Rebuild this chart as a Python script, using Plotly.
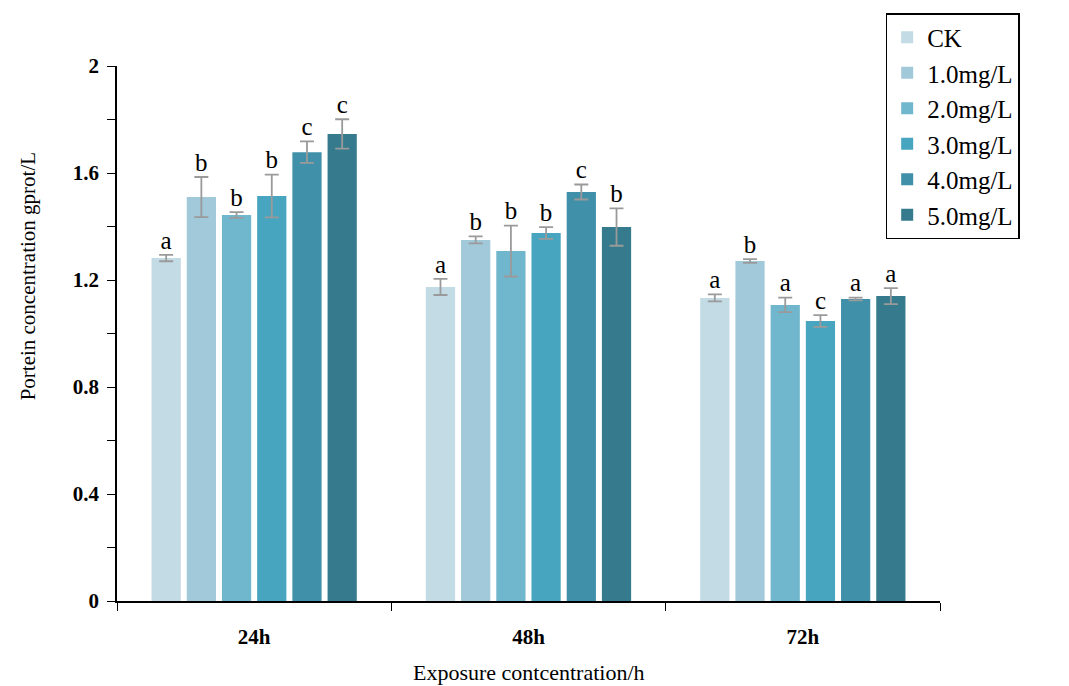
import plotly.graph_objects as go

groups = ["24h", "48h", "72h"]
series = ["CK", "1.0mg/L", "2.0mg/L", "3.0mg/L", "4.0mg/L", "5.0mg/L"]
colors = ["#c3dbe4", "#a1c9da", "#70b6cc", "#47a5bf", "#3f90a8", "#357b8d"]

values = {
    "CK":      [1.282, 1.174, 1.133],
    "1.0mg/L": [1.510, 1.350, 1.271],
    "2.0mg/L": [1.443, 1.308, 1.107],
    "3.0mg/L": [1.514, 1.376, 1.047],
    "4.0mg/L": [1.678, 1.529, 1.129],
    "5.0mg/L": [1.746, 1.398, 1.140],
}
errors = {
    "CK":      [0.012, 0.030, 0.013],
    "1.0mg/L": [0.075, 0.013, 0.007],
    "2.0mg/L": [0.011, 0.095, 0.027],
    "3.0mg/L": [0.080, 0.022, 0.022],
    "4.0mg/L": [0.040, 0.028, 0.005],
    "5.0mg/L": [0.055, 0.070, 0.030],
}
letters = {
    "CK":      ["a", "a", "a"],
    "1.0mg/L": ["b", "b", "b"],
    "2.0mg/L": ["b", "b", "a"],
    "3.0mg/L": ["b", "b", "c"],
    "4.0mg/L": ["c", "c", "a"],
    "5.0mg/L": ["c", "b", "a"],
}
ytick_vals = [0, 0.2, 0.4, 0.6, 0.8, 1.0, 1.2, 1.4, 1.6, 1.8, 2.0]
ytick_text = ["0", "", "0.4", "", "0.8", "", "1.2", "", "1.6", "", "2"]
x_title = "Exposure contcentration/h"
y_title = "Portein concentration gprot/L"

SERIF = "Liberation Serif"
BARGAP = 0.23
W, H = 1069, 686

fig = go.Figure()
for s, c in zip(series, colors):
    fig.add_trace(go.Bar(
        x=groups, y=values[s], name=s, marker_color=c, marker_line_width=0,
        offsetgroup=s, legendgroup=s,
        error_y=dict(type="data", array=errors[s], color="#9a9a9a",
                     thickness=1.8, width=7),
    ))
for s in series:
    fig.add_trace(go.Scatter(
        x=groups, y=[v + e for v, e in zip(values[s], errors[s])],
        mode="text", text=letters[s], textposition="top center",
        textfont=dict(family=SERIF, size=25, color="black"),
        offsetgroup=s, showlegend=False, hoverinfo="skip", cliponaxis=False,
    ))

fig.add_annotation(
    text=y_title, textangle=-90, xref="paper", yref="paper",
    x=-0.108, y=0.607, xanchor="center", yanchor="middle", showarrow=False,
    font=dict(family=SERIF, size=21, color="black"),
)
fig.add_annotation(
    text=x_title, xref="paper", yref="paper",
    x=0.5, y=-0.134, xanchor="center", yanchor="middle", showarrow=False,
    font=dict(family=SERIF, size=22, color="black"),
)

fig.update_layout(
    width=W, height=H,
    margin=dict(l=117, r=129, t=66, b=85),
    paper_bgcolor="white", plot_bgcolor="white",
    barmode="group", bargap=BARGAP, bargroupgap=0.17,
    scattermode="group", scattergap=BARGAP,
    font=dict(family=SERIF, color="black"),
    legend=dict(
        x=0.934, y=1.099, xanchor="left", yanchor="top",
        bordercolor="black", borderwidth=1.5, bgcolor="white",
        font=dict(family=SERIF, size=25, color="black"),
        tracegroupgap=0, itemwidth=30,
    ),
    xaxis=dict(
        type="category", showline=True, linecolor="black", linewidth=1.5,
        ticks="outside", tickson="boundaries", ticklen=8, tickcolor="black",
        ticklabelstandoff=16, automargin=False,
        tickfont=dict(family=SERIF, size=21, weight="bold"),
        showgrid=False,
    ),
    yaxis=dict(
        range=[0, 2], showline=True, linecolor="black", linewidth=1.5,
        ticks="outside", ticklen=8, tickcolor="black", automargin=False,
        tickvals=ytick_vals, ticktext=ytick_text, ticklabelstandoff=4,
        tickfont=dict(family=SERIF, size=21, weight="bold"),
        showgrid=False, zeroline=False,
    ),
)

fig.write_html("out.html", config={"displayModeBar": False},
               post_script="document.body.style.margin='0';")
